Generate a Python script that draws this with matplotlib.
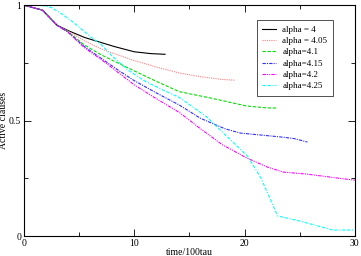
import matplotlib
matplotlib.use("Agg")
import matplotlib.pyplot as plt
from matplotlib.ticker import MultipleLocator

plt.rcParams['font.family'] = ['Liberation Serif', 'DejaVu Serif']

# data
x_a400 = [0, 1.7, 3, 4, 5.5, 7, 8.25, 10, 11.5, 12.8]
y_a400 = [1, 0.978, 0.913, 0.89, 0.86, 0.838, 0.82, 0.798, 0.79, 0.787]

x_a405 = [0, 1.7, 3, 4, 5.5, 7, 8.5, 10, 12, 14.1, 16, 18, 19.1]
y_a405 = [1, 0.978, 0.913, 0.888, 0.845, 0.81, 0.785, 0.76, 0.732, 0.706, 0.69, 0.678, 0.675]

x_a410 = [0, 1.7, 3, 4, 5.5, 7, 8.5, 9.8, 12, 14.1, 17, 20.2, 22, 23]
y_a410 = [1, 0.978, 0.913, 0.885, 0.827, 0.785, 0.75, 0.72, 0.67, 0.625, 0.597, 0.563, 0.555, 0.554]

x_a415 = [0, 1.7, 3, 4, 5.5, 7, 8.5, 10, 12, 14.1, 16, 18.2, 19.6, 22, 23.5, 24.5, 25.7]
y_a415 = [1, 0.978, 0.913, 0.883, 0.82, 0.77, 0.72, 0.673, 0.62, 0.567, 0.51, 0.465, 0.446, 0.435, 0.428, 0.422, 0.407]

x_a420 = [0, 1.7, 3, 4, 5.5, 7, 8.5, 10, 12, 14.1, 16, 18, 20.2, 22, 23.5, 25.7, 28.6, 30]
y_a420 = [1, 0.978, 0.913, 0.883, 0.815, 0.765, 0.71, 0.655, 0.595, 0.535, 0.465, 0.395, 0.338, 0.30, 0.277, 0.268, 0.25, 0.242]

x_a425 = [0, 1.5, 2.5, 3.5, 4.5, 5.5, 6.2, 7, 8, 9.4, 11, 12.5, 14.1, 16.6, 18, 20.3, 21.5, 23, 25, 28, 30]
y_a425 = [1, 1, 0.99, 0.96, 0.925, 0.885, 0.857, 0.83, 0.78, 0.72, 0.67, 0.635, 0.60, 0.515, 0.45, 0.345, 0.25, 0.087, 0.065, 0.026, 0.026]

labels = ["alpha = 4", "alpha = 4.05", "alpha=4.1", "alpha=4.15", "alpha=4.2", "alpha=4.25"]

fig = plt.figure(figsize=(3.61, 2.56), dpi=100)
ax = fig.add_axes([0.066, 0.078, 0.917, 0.902])

lw = 0.8
ax.plot(x_a400, y_a400, color='black', lw=lw, label=labels[0])
ax.plot(x_a405, y_a405, color='#ff8080', lw=lw, ls=(0, (1, 1)), label=labels[1])
ax.plot(x_a410, y_a410, color='#00e000', lw=lw, ls=(0, (3, 1.5)), label=labels[2])
ax.plot(x_a415, y_a415, color='#3030ff', lw=lw, ls=(0, (3, 1, 1, 1)), label=labels[3])
ax.plot(x_a420, y_a420, color='#ff00ff', lw=lw, ls=(0, (3, 1, 1, 1, 1, 1)), label=labels[4])
ax.plot(x_a425, y_a425, color='#00ffff', lw=lw, ls=(0, (3, 1.5, 3, 1.5, 1, 1.5)), label=labels[5])

ax.set_xlim(0, 30)
ax.set_ylim(0, 1)
ax.xaxis.set_major_locator(MultipleLocator(10))
ax.xaxis.set_minor_locator(MultipleLocator(5))
ax.yaxis.set_minor_locator(MultipleLocator(0.25))
ax.set_yticks([0, 0.5, 1])
ax.set_yticklabels(['0', '0.5', '1'])
ax.tick_params(which='both', direction='in', top=True, right=True, labelsize=7, pad=2)
ax.tick_params(which='major', length=5, width=0.6)
ax.tick_params(which='minor', length=3, width=0.6)
for s in ax.spines.values():
    s.set_linewidth(0.8)

ax.set_xlabel("time/100tau", fontsize=7, labelpad=0)
ax.set_ylabel("Active clauses", fontsize=7)
ax.yaxis.set_label_coords(-0.047, 0.5)

leg = ax.legend(loc='upper left', bbox_to_anchor=(0.704, 0.935), borderaxespad=0,
                fontsize=6.5, frameon=True, fancybox=False, edgecolor='black',
                handlelength=1.5, labelspacing=0.33, borderpad=0.6, handletextpad=0.7)
leg.get_frame().set_linewidth(0.6)

fig.savefig("out.png", dpi=100)
